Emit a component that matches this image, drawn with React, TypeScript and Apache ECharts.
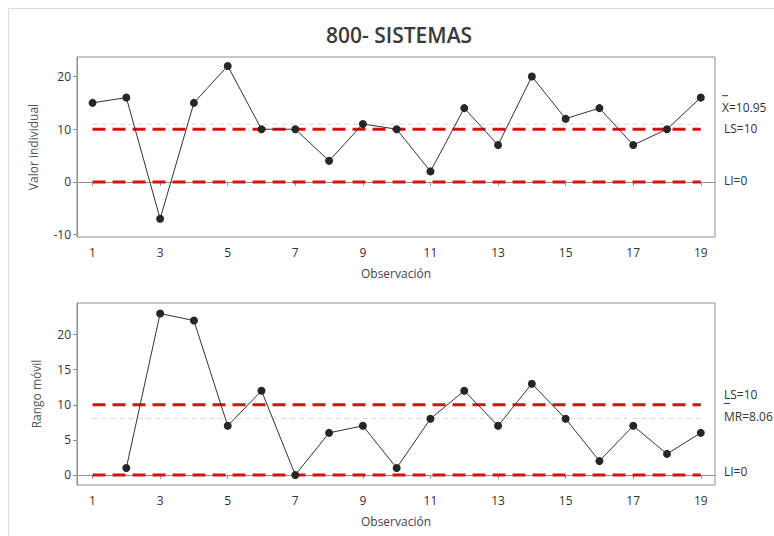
import React, { useEffect, useRef } from "react";
import * as echarts from "echarts";

const TITLE = "800- SISTEMAS";
const X_NAME = "Observación";
const Y1_NAME = "Valor individual";
const Y2_NAME = "Rango móvil";

const observations = [1, 2, 3, 4, 5, 6, 7, 8, 9, 10, 11, 12, 13, 14, 15, 16, 17, 18, 19];
const individualValues = [15, 16, -7, 15, 22, 10, 10, 4, 11, 10, 2, 14, 7, 20, 12, 14, 7, 10, 16];
const movingRanges: (number | null)[] = [null, 1, 23, 22, 7, 12, 0, 6, 7, 1, 8, 12, 7, 13, 8, 2, 7, 3, 6];

const xTicks = [1, 3, 5, 7, 9, 11, 13, 15, 17, 19];
const yTicksInd = [-10, 0, 10, 20];
const yTicksMR = [0, 5, 10, 15, 20];

const indCenter = 10.95;
const indUpper = 10;
const indLower = 0;
const mrCenter = 8.06;
const mrUpper = 10;
const mrLower = 0;

const FONT = "Open Sans";
const FRAME = "#8f8f8f";
const RED = "#d81010";

export default function App() {
  const ref = useRef<HTMLDivElement>(null);
  useEffect(() => {
    if (!ref.current) return;
    const chart = echarts.init(ref.current, null, { renderer: "svg" });
    const xFirst = observations[0];
    const xLast = observations[observations.length - 1];

    const mkX = (gi: number) => ({
      type: "value",
      gridIndex: gi,
      min: 0.54,
      max: 19.42,
      name: X_NAME,
      nameLocation: "middle",
      nameGap: 30,
      nameTextStyle: { color: "#444", fontSize: 12, fontFamily: FONT },
      axisLine: { show: true, lineStyle: { color: FRAME } },
      axisTick: { show: true, length: 4, customValues: xTicks, lineStyle: { color: FRAME } },
      axisLabel: { customValues: xTicks, color: "#333", fontSize: 12, fontFamily: FONT, margin: 9 },
      splitLine: { show: false },
    });
    const mkY = (gi: number, min: number, max: number, ticks: number[], name: string, gap: number) => ({
      type: "value",
      gridIndex: gi,
      min,
      max,
      name,
      nameLocation: "middle",
      nameGap: gap,
      nameTextStyle: { color: "#555", fontSize: 12, fontFamily: FONT },
      axisLine: { show: true, lineStyle: { color: FRAME } },
      axisTick: { show: true, length: 4, customValues: ticks, lineStyle: { color: FRAME } },
      axisLabel: { customValues: ticks, color: "#333", fontSize: 12, fontFamily: FONT, margin: 6 },
      splitLine: { show: false },
    });
    const limitLine = (gi: number, v: number, color: string, width: number, dash: number[], z: number) => ({
      type: "line",
      xAxisIndex: gi,
      yAxisIndex: gi,
      data: [
        [xFirst, v],
        [xLast, v],
      ],
      symbol: "none",
      silent: true,
      z,
      lineStyle: { color, width, type: dash },
    });
    const dataSeries = (gi: number, vals: (number | null)[]) => ({
      type: "line",
      xAxisIndex: gi,
      yAxisIndex: gi,
      data: observations.map((x, i) => [x, vals[i]]),
      symbol: "circle",
      symbolSize: 8,
      itemStyle: { color: "#262626" },
      lineStyle: { color: "#333", width: 1 },
      z: 5,
    });

    chart.setOption({
      animation: false,
      backgroundColor: "#fff",
      title: {
        text: TITLE,
        left: 326,
        top: 24,
        padding: 0,
        textStyle: { fontFamily: FONT, fontSize: 21, fontWeight: 600, color: "#3a3a3a" },
      },
      grid: [
        { left: 77, top: 57, width: 638, height: 180, show: true, borderColor: FRAME, borderWidth: 1, backgroundColor: "transparent" },
        { left: 77, top: 303, width: 638, height: 182, show: true, borderColor: FRAME, borderWidth: 1, backgroundColor: "transparent" },
      ],
      xAxis: [mkX(0), mkX(1)],
      yAxis: [mkY(0, -10.45, 23.7, yTicksInd, Y1_NAME, 38), mkY(1, -1.43, 24.5, yTicksMR, Y2_NAME, 35)],
      series: [
        limitLine(0, indCenter, "#d6d6d6", 1, [5, 4], 1),
        limitLine(0, indUpper, RED, 3, [13, 7], 2),
        limitLine(0, indLower, RED, 3, [13, 7], 2),
        dataSeries(0, individualValues),
        limitLine(1, mrCenter, "#d6d6d6", 1, [5, 4], 1),
        limitLine(1, mrUpper, RED, 3, [13, 7], 2),
        limitLine(1, mrLower, RED, 3, [13, 7], 2),
        dataSeries(1, movingRanges),
      ],
    });

    const py = (gi: number, v: number) => (chart.convertToPixel({ gridIndex: gi }, [xLast, v]) as number[])[1];
    const labelStyle = { fontFamily: FONT, fontSize: 12, fill: "#333" };
    const t = (x: number, y: number, text: string) => ({
      type: "text",
      x,
      y,
      silent: true,
      style: { ...labelStyle, text, verticalAlign: "middle" },
    });
    const bar = (x1: number, x2: number, y: number) => ({
      type: "line",
      silent: true,
      shape: { x1, y1: y, x2, y2: y },
      style: { stroke: "#333", lineWidth: 1 },
    });
    const yXbar = py(0, indCenter) - 16.5;
    const yMR = py(1, mrCenter) - 2;
    chart.setOption({
      graphic: [
        {
          type: "rect",
          silent: true,
          shape: { x: 8.5, y: 8.5, width: 900, height: 700 },
          style: { fill: "none", stroke: "#dcdcdc", lineWidth: 1 },
        },
        t(722, yXbar, `X=${indCenter.toFixed(2)}`),
        bar(722, 728, yXbar - 12),
        t(724, py(0, indUpper) - 1, `LS=${indUpper}`),
        t(724, py(0, indLower) - 1.5, `LI=${indLower}`),
        t(724, py(1, mrUpper) - 10, `LS=${mrUpper}`),
        t(724, yMR, `MR=${mrCenter.toFixed(2)}`),
        bar(724, 730, yMR - 13),
        t(724, py(1, mrLower) - 3, `LI=${mrLower}`),
      ],
    });

    return () => chart.dispose();
  }, []);
  return <div ref={ref} style={{ position: "absolute", left: 0, top: 0, width: 774, height: 536 }} />;
}
